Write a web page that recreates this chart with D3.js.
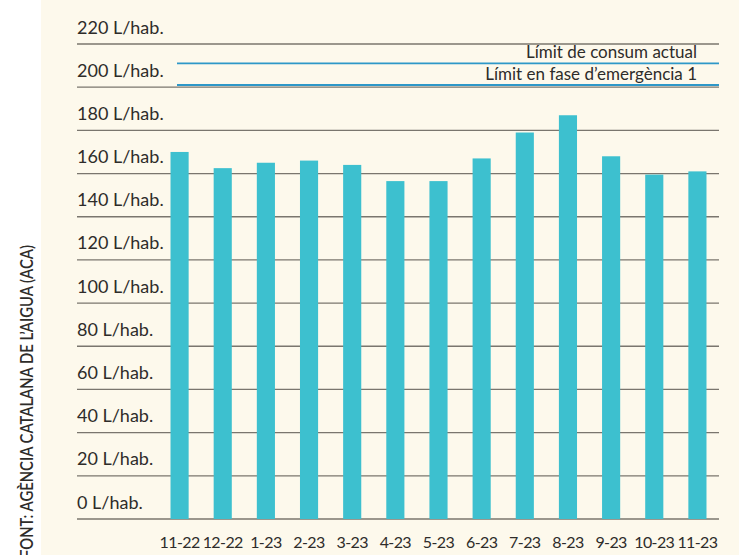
<!DOCTYPE html>
<html>
<head>
<meta charset="utf-8">
<script src="https://cdn.jsdelivr.net/npm/d3@7"></script>
<style>
  body { margin: 0; background: #fff; }
  svg { display: block; font-family: Lato, 'Open Sans', sans-serif; }
  .grid line { stroke: #7a766e; stroke-width: 1.3; }
  .ylabel { fill: #2e2c2a; font-size: 18px; }
  .xlabel { fill: #2e2c2a; font-size: 16px; letter-spacing: -0.6px; }
  .limit-label { fill: #2e2c2a; font-size: 17px; }
  .limit-line { stroke: #2e98c8; stroke-width: 1.8; }
  .bar { fill: #3dc0cf; }
  .source { fill: #2e2c2a; font-size: 16.5px; font-weight: 600; }
</style>
</head>
<body>
<svg id="chart" width="739" height="555"></svg>
<script>
const months = ['11-22', '12-22', '1-23', '2-23', '3-23', '4-23', '5-23', '6-23', '7-23', '8-23', '9-23', '10-23', '11-23']
const consum = [170, 162.5, 165, 166, 164, 156.5, 156.5, 167, 179, 187, 168, 159.5, 161]
const yTicks = [0, 20, 40, 60, 80, 100, 120, 140, 160, 180, 200, 220]
const limitNames = ['Límit de consum actual', 'Límit en fase d’emergència 1']
const limitValues = [211, 201]
const source = 'FONT: AGÈNCIA CATALANA DE L’AIGUA (ACA)'

const svg = d3.select('#chart')
const width = +svg.attr('width')
const height = +svg.attr('height')

const plot = { left: 77, right: 719, top: 44, bottom: 519 }

svg.append('rect')
  .attr('x', 41).attr('y', 0)
  .attr('width', width - 41).attr('height', height)
  .attr('fill', '#fdf9ec')

const y = d3.scaleLinear().domain([0, 220]).range([plot.bottom, plot.top])
const x = d3.scaleBand()
  .domain(months)
  .range([158, 719])
  .paddingInner(0.58)
  .paddingOuter(0.29)

// gridlines with the label sitting on top of each line
const grid = svg.append('g').classed('grid', true)
grid.selectAll('line')
  .data(yTicks)
  .join('line')
  .attr('x1', plot.left).attr('x2', plot.right)
  .attr('y1', d => y(d)).attr('y2', d => y(d))

svg.append('g').selectAll('text')
  .data(yTicks)
  .join('text')
  .classed('ylabel', true)
  .attr('x', plot.left)
  .attr('y', d => y(d) - 10.5)
  .text(d => d + ' L/hab.')

// limit lines
const limits = svg.append('g')
limits.selectAll('line')
  .data(limitValues)
  .join('line')
  .classed('limit-line', true)
  .attr('x1', 177).attr('x2', plot.right)
  .attr('y1', d => y(d)).attr('y2', d => y(d))

limits.selectAll('text')
  .data(limitValues)
  .join('text')
  .classed('limit-label', true)
  .attr('x', 697)
  .attr('y', d => y(d) - 5.5)
  .attr('text-anchor', 'end')
  .text((d, i) => limitNames[i])

// bars
svg.append('g').selectAll('rect')
  .data(consum)
  .join('rect')
  .classed('bar', true)
  .attr('x', (d, i) => x(months[i]))
  .attr('width', x.bandwidth())
  .attr('y', d => y(d))
  .attr('height', d => y(0) - y(d))

svg.append('g').selectAll('text')
  .data(months)
  .join('text')
  .classed('xlabel', true)
  .attr('x', d => x(d) + x.bandwidth() / 2)
  .attr('y', 548)
  .attr('text-anchor', 'middle')
  .text(d => d)

svg.append('text')
  .classed('source', true)
  .attr('transform', 'translate(33, 558) rotate(-90)')
  .attr('textLength', 313)
  .attr('lengthAdjust', 'spacingAndGlyphs')
  .text(source)
</script>
</body>
</html>
